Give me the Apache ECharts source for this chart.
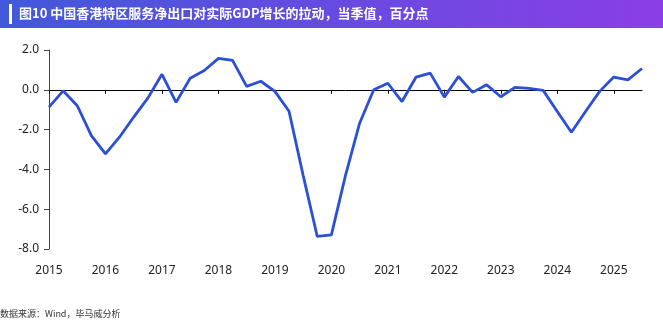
<!DOCTYPE html>
<html><head><meta charset="utf-8">
<script src="https://cdn.jsdelivr.net/npm/echarts@6/dist/echarts.min.js"></script>
<style>html,body{margin:0;padding:0;background:#fff}#c{width:663px;height:329px}</style>
</head><body><div id="c"></div>
<script>
const titleText = '图10 中国香港特区服务净出口对实际GDP增长的拉动，当季值，百分点';
const sourceText = '数据来源：Wind，毕马威分析';
const quarters = [
 '2015Q1','2015Q2','2015Q3','2015Q4','2016Q1','2016Q2','2016Q3','2016Q4',
 '2017Q1','2017Q2','2017Q3','2017Q4','2018Q1','2018Q2','2018Q3','2018Q4',
 '2019Q1','2019Q2','2019Q3','2019Q4','2020Q1','2020Q2','2020Q3','2020Q4',
 '2021Q1','2021Q2','2021Q3','2021Q4','2022Q1','2022Q2','2022Q3','2022Q4',
 '2023Q1','2023Q2','2023Q3','2023Q4','2024Q1','2024Q2','2024Q3','2024Q4',
 '2025Q1','2025Q2','2025Q3'
];
const values = [
 -0.87,-0.05,-0.80,-2.30,-3.22,-2.37,-1.37,-0.42,
 0.78,-0.63,0.58,0.97,1.58,1.48,0.17,0.43,
 -0.08,-1.08,-4.30,-7.37,-7.29,-4.30,-1.68,0.00,
 0.33,-0.59,0.64,0.84,-0.37,0.67,-0.13,0.25,
 -0.35,0.12,0.07,-0.03,-1.09,-2.13,-1.09,-0.08,
 0.64,0.50,1.07
];
const yTicks = {min:-8, max:2, interval:2};

const chart = echarts.init(document.getElementById('c'));
chart.setOption({
  animation:false,
  graphic:[
    {type:'rect', shape:{x:0,y:0,width:663,height:28},
     style:{fill:new echarts.graphic.LinearGradient(0,0,1,0,[{offset:0,color:'#4159da'},{offset:1,color:'#8b3ee6'}])}},
    {type:'rect', shape:{x:9,y:4,width:3,height:20}, style:{fill:'#ffffff'}},
    {type:'text', left:19, top:7, style:{text:titleText, fill:'#ffffff', font:'bold 13px "Noto Sans CJK SC"'}},
    {type:'text', left:0, top:309, style:{text:sourceText, fill:'#333333', font:'9px "Noto Sans CJK SC"'}}
  ],
  grid:{left:49, right:21, top:50, bottom:80, containLabel:false},
  xAxis:[
    {type:'category', data:quarters, boundaryGap:false,
     axisLine:{onZero:true, lineStyle:{color:'#000', width:1}},
     axisTick:{show:true, interval:3, length:4, inside:false, lineStyle:{color:'#000'}},
     axisLabel:{show:false}, splitLine:{show:false}},
    {type:'category', data:quarters, boundaryGap:false, position:'bottom',
     axisLine:{show:false, onZero:false}, axisTick:{show:false},
     axisLabel:{interval:3, margin:16, color:'#222', fontSize:12, fontFamily:'"Noto Sans", "DejaVu Sans", sans-serif',
       formatter:v=>v.slice(0,4)}, splitLine:{show:false}}
  ],
  yAxis:{type:'value', min:yTicks.min, max:yTicks.max, interval:yTicks.interval,
    axisLine:{show:true, lineStyle:{color:'#444'}},
    axisTick:{show:true, length:5, lineStyle:{color:'#444'}},
    splitLine:{show:false},
    axisLabel:{color:'#222', fontSize:12, margin:10, fontFamily:'"Noto Sans", "DejaVu Sans", sans-serif', formatter:v=>v.toFixed(1)}},
  series:[{type:'line', data:values, xAxisIndex:0, showSymbol:false, symbol:'none',
    lineStyle:{color:'#2b4fd6', width:2.8}, z:3}]
});
</script></body></html>
